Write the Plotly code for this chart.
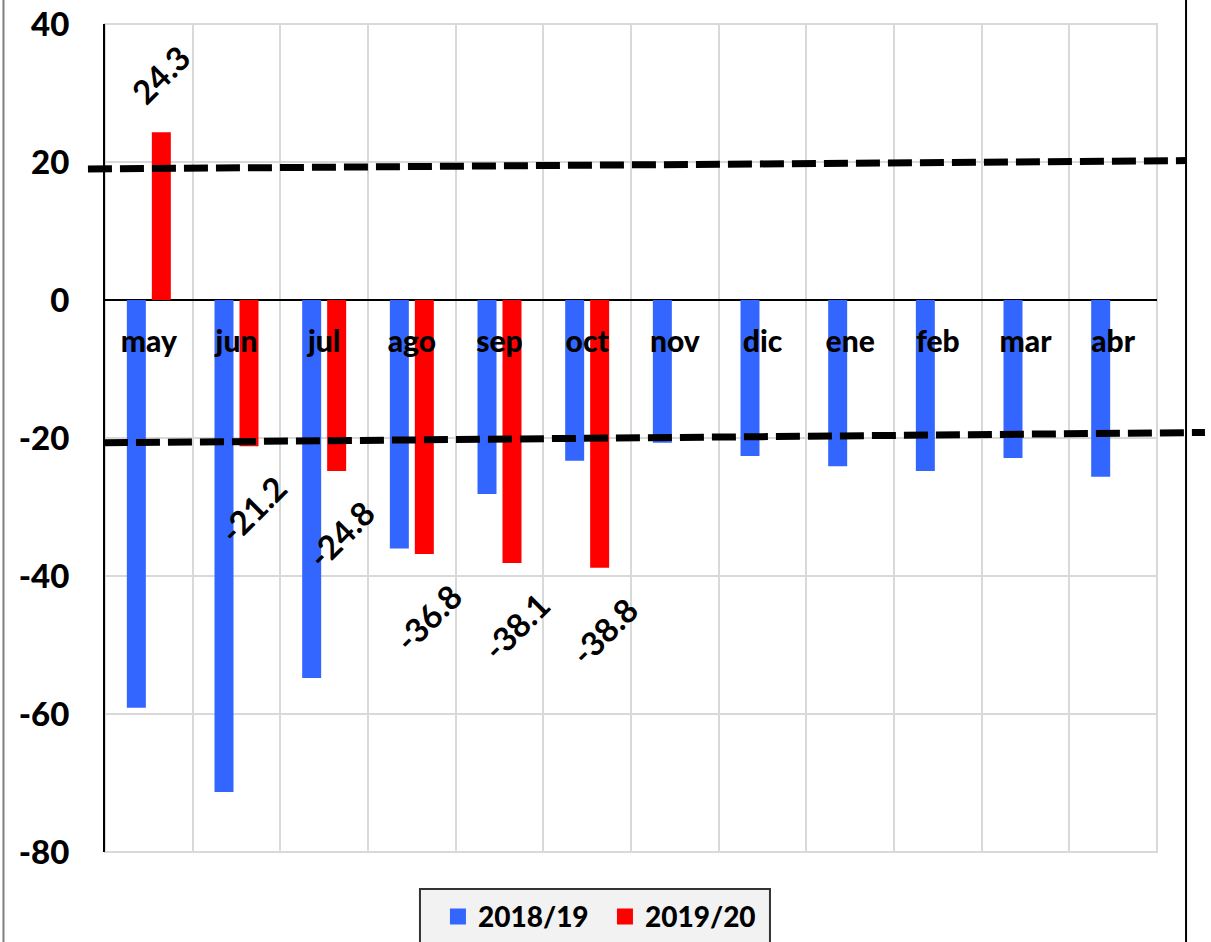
import plotly.graph_objects as go

# Monthly variation (%) by campaign
months = ["may", "jun", "jul", "ago", "sep", "oct", "nov", "dic", "ene", "feb", "mar", "abr"]
season_2018_19 = [-59.1, -71.3, -54.8, -36.0, -28.1, -23.3, -20.7, -22.6, -24.1, -24.8, -22.9, -25.6]
season_2019_20 = [24.3, -21.2, -24.8, -36.8, -38.1, -38.8]
series_names = ["2018/19", "2019/20"]
series_colors = ["#3366FF", "#FF0000"]

# Value axis ticks
y_ticks = [-80, -60, -40, -20, 0, 20, 40]
y_tick_labels = ["-80", "-60", "-40", "-20", "0", "20", "40"]

# Dashed reference bands (value at left end, value at right end)
upper_band = [18.98, 20.2]
lower_band = [-20.7, -19.2]

Y_MIN, Y_MAX = -80, 40
FONT = "Lato"


def to_paper(v):
    return (v - Y_MIN) / (Y_MAX - Y_MIN)


fig = go.Figure()
for name, values, color in zip(series_names, [season_2018_19, season_2019_20], series_colors):
    fig.add_trace(go.Bar(
        x=months[:len(values)], y=values, name=name, showlegend=False,
        marker=dict(color=color, line=dict(width=0)),
    ))
# legend keys with larger square swatches
for name, color in zip(series_names, series_colors):
    fig.add_trace(go.Scatter(
        x=[None], y=[None], name=name, mode="markers",
        marker=dict(symbol="square", size=16, color=color, line=dict(width=0)),
    ))

# Value labels for the current campaign, rotated
for m, v in zip(months, season_2019_20):
    fig.add_annotation(
        x=m, y=v, xref="x", yref="y",
        text=f"{v:.1f}", showarrow=False, textangle=-45,
        xanchor="center", yanchor="middle",
        xshift=12 if v > 0 else 16.5, yshift=58 if v > 0 else -63,
        font=dict(family=FONT, size=33, color="black", weight="bold"),
    )

shapes = [
    # plot frame
    dict(type="rect", xref="paper", yref="paper", x0=0, x1=1, y0=0, y1=1,
         line=dict(color="#D9D9D9", width=2), layer="below"),
    # legend box
    dict(type="rect", xref="paper", yref="paper", x0=0.2994, x1=0.6321, y0=-0.0447, y1=-0.14,
         fillcolor="#F2F2F2", line=dict(color="#333333", width=2), layer="below"),
    # dashed bands
    dict(type="line", xref="paper", yref="paper", x0=-0.0162, x1=1.0285,
         y0=to_paper(upper_band[0]), y1=to_paper(upper_band[1]),
         line=dict(color="black", width=7, dash="24px,8px")),
    dict(type="line", xref="paper", yref="paper", x0=-0.001, x1=1.0456,
         y0=to_paper(lower_band[0]), y1=to_paper(lower_band[1]),
         line=dict(color="black", width=7, dash="24px,8px")),
    # outer chart border
    dict(type="line", xref="paper", yref="paper", x0=-0.0965, x1=-0.0965, y0=-0.2, y1=1.1,
         line=dict(color="#7F7F7F", width=2)),
    dict(type="line", xref="paper", yref="paper", x0=1.0276, x1=1.0276, y0=-0.2, y1=1.1,
         line=dict(color="black", width=2)),
]

fig.update_layout(
    width=1211, height=942,
    margin=dict(l=105, r=54, t=24, b=90, autoexpand=False),
    paper_bgcolor="white", plot_bgcolor="white",
    barmode="group", bargap=0.43, bargroupgap=0.24,
    shapes=shapes,
    font=dict(family=FONT, color="black"),
    showlegend=True,
    legend=dict(
        orientation="h", x=0.3165, xanchor="left", y=-0.048, yanchor="top",
        bgcolor="rgba(0,0,0,0)", borderwidth=0,
        font=dict(family=FONT, size=28, color="black", weight=900),
        traceorder="normal", entrywidth=122, entrywidthmode="pixels",
    ),
    xaxis=dict(
        type="category", range=[-0.5, 11.5],
        anchor="free", position=to_paper(0),
        showgrid=True, gridcolor="#D9D9D9", gridwidth=2,
        tickson="boundaries", ticks="", showline=False,
        ticklabelstandoff=21,
        tickfont=dict(family=FONT, size=30, color="black", weight=900),
    ),
    yaxis=dict(
        range=[Y_MIN, Y_MAX], tickmode="array", tickvals=y_ticks, ticktext=y_tick_labels,
        showgrid=True, gridcolor="#D9D9D9", gridwidth=2,
        zeroline=True, zerolinecolor="black", zerolinewidth=2,
        showline=True, linecolor="black", linewidth=2,
        ticks="", ticklabelstandoff=27,
        tickfont=dict(family=FONT, size=33, color="black", weight=900),
    ),
)

fig.write_html("out.html")
